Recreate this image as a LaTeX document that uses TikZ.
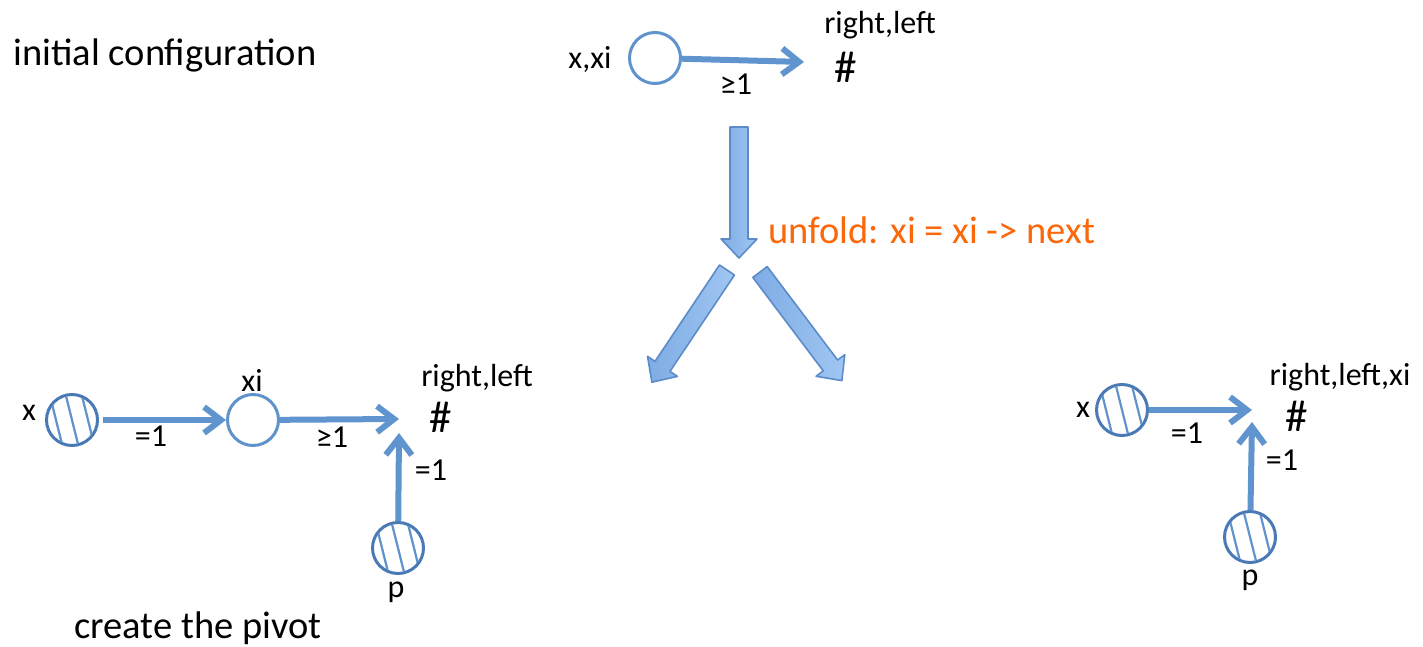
\documentclass[tikz,border=0pt]{standalone}
\usepackage{fontspec}
\setmainfont{Carlito}
\usetikzlibrary{arrows.meta,calc}

\definecolor{nodeblue}{RGB}{96,146,204}
\definecolor{hatchblue}{RGB}{74,122,182}
\definecolor{arrowblue}{RGB}{96,148,206}
\definecolor{blkedge}{RGB}{92,139,200}
\definecolor{blkA}{RGB}{126,172,228}
\definecolor{blkB}{RGB}{160,198,242}
\definecolor{stepred}{RGB}{250,104,10}

\tikzset{
  lbl/.style={inner sep=0, font=\fontsize{32}{34}\selectfont},
  biglbl/.style={inner sep=0, font=\fontsize{38.5}{40}\selectfont},
  hashlbl/.style={inner sep=0, font=\fontsize{45}{46}\selectfont},
  plaincirc/.style={circle, draw=nodeblue, line width=3, minimum size=51, inner sep=0},
  hatchcirc/.style={plaincirc, draw=hatchblue},
  hatchline/.style={draw=nodeblue, line width=2.2},
  conn/.style={draw=arrowblue, line width=6, -{Straight Barb[length=17,width=26]}},
  blockbody/.style={draw=blkedge, line width=1.6, left color=blkA, right color=blkB, line join=round},
  pics/blockarrow/.style={code={
    \path[blockbody] (0,-9) -- ({#1-19},-9) -- ({#1-19},-18) -- (#1,0)
      -- ({#1-19},18) -- ({#1-19},9) -- (0,9) -- cycle;
  }},
}

% three steep stripes inside a hatched circle
\newcommand\stripes[1]{%
  \begin{scope}
    \clip (#1.center) circle (24);
    \foreach \o in {-16,0,16}
      \draw[hatchline] ($(#1.center)+(\o,0)+(-8,-32)$) -- ($(#1.center)+(\o,0)+(8,32)$);
  \end{scope}}

\begin{document}
\begin{tikzpicture}[x=1pt,y=-1pt]
\useasboundingbox (0,0) rectangle (1423,647);

% ---- initial configuration ----
\node[biglbl] (title1) at (165,55) {initial configuration};
\node[plaincirc] (c0) at (655,58) {};
\node[lbl] (c0lbl) at (590,60) {x,xi};
\node[hashlbl] (h0) at (846,67) {\#};
\node[lbl] (h0lbl) at (880,25) {right,left};
\coordinate (t0) at (804,62);
\draw[conn] (c0) -- (t0);
\node[lbl] (e0) at (736,84) {≥1};

% ---- unfolding step ----
\pic[rotate=-90] at (739,127) {blockarrow=131};
\node[biglbl, text=stepred, anchor=west] (unf) at (768,230) {unfold: xi = xi -> next};
\pic[rotate=-123.8] at (727,270) {blockarrow=135};
\pic[rotate=-53.0] at (760,272) {blockarrow=136};

% ---- left case: create the pivot ----
\node[hatchcirc] (x1) at (72,420) {};
\stripes{x1}
\node[lbl] (x1lbl) at (29,413) {x};
\node[plaincirc] (xi1) at (253,420) {};
\node[lbl] (xi1lbl) at (252,380) {xi};
\node[hashlbl] (h1) at (441,417) {\#};
\node[lbl] (h1lbl) at (477,378) {right,left};
\node[hatchcirc] (p1) at (398,548) {};
\stripes{p1}
\node[lbl] (p1lbl) at (396,592) {p};
\coordinate (t1) at (399,419);
\coordinate (t1b) at (399,433);
\draw[conn, shorten <=4] (x1) -- (xi1);
\draw[conn] (xi1) -- (t1);
\draw[conn] (p1) -- (t1b);
\node[lbl] (e1) at (151,436) {=1};
\node[lbl] (e2) at (332,437) {≥1};
\node[lbl] (e3) at (431,470) {=1};
\node[biglbl] (title2) at (198,628) {create the pivot};

% ---- right case ----
\node[hatchcirc] (x2) at (1122,410) {};
\stripes{x2}
\node[lbl] (x2lbl) at (1083,410) {x};
\node[hashlbl] (h2) at (1297,416) {\#};
\node[lbl] (h2lbl) at (1340,377) {right,left,xi};
\node[hatchcirc] (p2) at (1250,537) {};
\stripes{p2}
\node[lbl] (p2lbl) at (1250,580) {p};
\coordinate (t2) at (1252,410);
\coordinate (t2b) at (1252,422);
\draw[conn] (x2) -- (t2);
\draw[conn] (p2) -- (t2b);
\node[lbl] (e4) at (1187,433) {=1};
\node[lbl] (e5) at (1282,460) {=1};
\end{tikzpicture}
\end{document}
